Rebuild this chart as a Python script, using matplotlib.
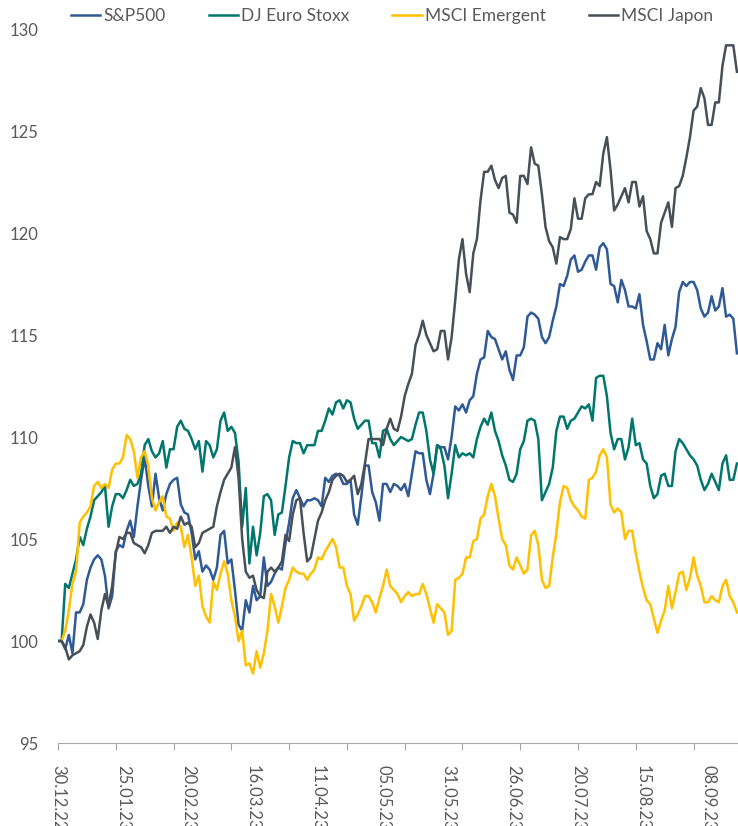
import numpy as np
import pandas as pd
import matplotlib
matplotlib.use('Agg')
import matplotlib.pyplot as plt
from matplotlib.ticker import MultipleLocator, NullFormatter, FuncFormatter

plt.rcParams['font.family'] = ['Lato', 'DejaVu Sans']

# business days from 30.12.22, values rebased to 100
dates = pd.bdate_range('2022-12-30', periods=189)

sp500 = [100.0, 100.0, 99.6, 100.3, 99.4, 101.4, 101.4, 101.8, 103.0, 103.6,
         104.0, 104.2, 104.0, 103.2, 101.6, 102.2, 104.4, 104.7, 104.6, 105.4,
         105.9, 105.1, 106.6, 107.9, 109.0, 107.6, 106.6, 108.2, 107.0, 106.4,
         107.2, 107.7, 107.9, 108.0, 106.7, 106.3, 106.2, 105.3, 104.0, 104.4,
         103.4, 103.7, 103.5, 103.0, 103.6, 105.2, 105.4, 103.8, 104.0, 102.5,
         100.8, 100.5, 102.0, 101.4, 102.7, 102.0, 102.2, 104.1, 102.7, 102.9,
         103.3, 103.6, 103.5, 104.8, 105.8, 107.0, 107.4, 107.0, 106.6, 106.9,
         106.9, 107.0, 106.9, 106.6, 108.0, 107.8, 108.1, 108.2, 108.1, 107.7,
         107.7, 107.9, 106.2, 105.7, 107.1, 108.6, 108.6, 107.3, 106.8, 105.9,
         107.7, 107.7, 107.3, 107.7, 107.6, 107.4, 107.7, 107.1, 108.2, 109.3,
         109.2, 109.2, 107.9, 107.2, 108.2, 109.6, 109.5, 109.5, 108.9, 110.0,
         111.5, 111.3, 111.6, 111.2, 111.8, 112.0, 113.1, 113.8, 113.9, 115.2,
         114.9, 114.8, 114.3, 113.8, 114.2, 113.3, 112.8, 114.0, 114.0, 114.4,
         115.9, 116.1, 116.0, 115.8, 114.9, 114.6, 114.9, 115.7, 116.4, 117.5,
         117.4, 117.9, 118.7, 118.9, 118.1, 118.2, 118.6, 118.9, 118.9, 118.2,
         119.3, 119.5, 119.2, 117.5, 117.4, 116.6, 117.7, 117.2, 116.4, 116.4,
         116.3, 117.0, 115.5, 114.7, 113.8, 113.8, 114.6, 114.3, 115.5, 114.0,
         114.8, 115.4, 117.1, 117.6, 117.4, 117.6, 117.6, 117.2, 116.3, 115.9,
         116.1, 116.9, 116.2, 116.4, 117.3, 115.9, 116.0, 115.8, 114.1]

euro_stoxx = [100.0, 100.0, 102.8, 102.6, 103.3, 104.0, 105.1, 104.7, 105.5, 106.1,
              106.9, 107.1, 107.3, 107.6, 105.6, 106.6, 107.2, 107.2, 107.0, 107.4,
              107.9, 107.6, 107.7, 108.2, 109.6, 109.9, 109.3, 109.0, 109.2, 109.8,
              108.5, 109.4, 109.4, 110.5, 110.8, 110.4, 110.3, 109.9, 109.4, 109.8,
              108.3, 109.8, 109.6, 109.0, 109.4, 110.8, 111.2, 110.3, 110.5, 110.2,
              108.8, 105.6, 107.5, 103.8, 105.6, 104.2, 105.3, 107.1, 107.2, 106.9,
              105.2, 106.2, 106.3, 107.6, 109.0, 109.8, 109.7, 109.7, 109.2, 109.6,
              109.6, 109.6, 110.3, 110.3, 110.8, 111.4, 111.1, 111.7, 111.8, 111.4,
              111.8, 111.7, 110.9, 110.4, 110.6, 110.8, 110.8, 109.7, 109.7, 109.0,
              110.3, 110.4, 109.9, 109.6, 109.8, 110.0, 109.9, 109.8, 109.9, 110.6,
              111.2, 111.2, 110.3, 108.9, 108.2, 109.6, 109.4, 108.6, 107.0, 108.2,
              109.6, 109.0, 109.2, 109.1, 109.2, 109.0, 109.9, 110.5, 110.9, 110.6,
              111.2, 110.3, 109.8, 109.1, 108.6, 107.9, 107.8, 108.2, 109.4, 109.8,
              110.8, 110.9, 110.8, 109.9, 106.9, 107.3, 107.7, 108.5, 110.3, 111.0,
              111.0, 110.4, 110.8, 110.9, 111.2, 111.5, 111.4, 111.6, 110.8, 112.9,
              113.0, 113.0, 112.0, 110.2, 109.4, 109.9, 109.9, 108.9, 109.5, 110.9,
              109.6, 109.7, 108.9, 108.7, 107.6, 107.0, 107.2, 108.1, 108.2, 107.6,
              107.6, 109.3, 109.9, 109.7, 109.4, 109.1, 108.9, 108.6, 107.9, 107.4,
              107.7, 108.2, 107.8, 107.4, 108.7, 109.1, 107.9, 107.9, 108.7]

emergent = [100.0, 100.0, 100.5, 101.5, 102.8, 103.4, 105.8, 106.1, 106.3, 106.6,
            107.6, 107.8, 107.5, 107.7, 107.5, 108.4, 108.7, 108.7, 109.0, 110.1,
            109.9, 109.3, 108.0, 109.0, 109.3, 108.6, 107.0, 106.4, 106.8, 107.1,
            106.1, 106.0, 105.4, 105.8, 105.6, 104.6, 105.2, 104.1, 102.7, 103.2,
            101.7, 101.2, 100.9, 102.9, 102.5, 103.3, 103.9, 103.3, 102.0, 101.2,
            100.0, 100.5, 98.8, 98.9, 98.4, 99.5, 98.7, 99.4, 100.5, 102.3,
            101.7, 100.9, 101.7, 102.6, 103.0, 103.6, 103.4, 103.3, 103.3, 103.0,
            103.3, 103.5, 104.1, 104.0, 104.4, 104.7, 105.0, 104.6, 103.6, 103.6,
            102.7, 102.3, 101.0, 101.3, 101.7, 102.2, 102.2, 101.9, 101.4, 102.1,
            102.7, 103.5, 102.7, 102.5, 102.3, 101.9, 102.2, 102.4, 102.2, 102.3,
            102.3, 102.8, 102.3, 101.6, 100.9, 101.8, 101.6, 101.4, 100.3, 100.5,
            103.0, 103.1, 103.3, 104.1, 104.1, 104.9, 105.0, 106.0, 106.2, 107.1,
            107.7, 107.1, 106.0, 105.0, 104.7, 103.7, 103.5, 104.1, 103.7, 103.3,
            103.5, 105.2, 105.4, 104.7, 103.0, 102.6, 102.7, 104.1, 105.3, 106.8,
            107.6, 107.5, 106.9, 106.6, 106.4, 106.1, 106.0, 107.9, 108.0, 108.3,
            109.1, 109.4, 109.0, 106.7, 106.3, 106.5, 106.3, 105.0, 105.4, 105.4,
            104.3, 103.4, 102.6, 102.0, 101.8, 101.1, 100.4, 101.0, 101.5, 102.7,
            101.6, 102.4, 103.3, 103.4, 102.5, 103.1, 104.1, 103.2, 102.7, 101.9,
            101.9, 102.2, 102.0, 101.9, 102.7, 103.0, 102.2, 101.9, 101.4]

japon = [100.0, 100.0, 99.7, 99.1, 99.3, 99.4, 99.5, 99.8, 100.7, 101.3,
         100.9, 100.1, 101.5, 102.3, 101.7, 102.7, 104.3, 105.1, 105.0, 105.3,
         105.3, 104.8, 104.7, 104.6, 104.3, 104.7, 105.3, 105.4, 105.4, 105.4,
         105.6, 105.3, 105.6, 105.5, 106.1, 105.7, 105.8, 105.6, 104.6, 104.8,
         105.3, 105.4, 105.5, 105.6, 106.6, 107.3, 107.9, 108.2, 108.5, 109.5,
         108.0, 105.0, 103.4, 103.1, 103.2, 102.5, 102.2, 102.1, 103.4, 103.6,
         103.4, 103.6, 103.9, 105.2, 104.9, 106.2, 106.9, 107.0, 105.3, 103.9,
         104.1, 105.0, 105.9, 106.3, 106.9, 107.3, 107.9, 108.1, 108.2, 108.1,
         107.8, 107.9, 108.1, 107.2, 107.7, 108.7, 109.9, 109.9, 109.9, 109.9,
         109.6, 110.4, 110.9, 110.4, 110.3, 111.0, 112.0, 112.6, 113.1, 114.5,
         115.0, 115.7, 115.0, 114.6, 114.2, 114.3, 115.2, 115.2, 113.8, 114.9,
         116.7, 118.7, 119.7, 118.0, 117.1, 119.0, 119.7, 121.6, 123.0, 123.0,
         123.3, 122.6, 122.2, 122.7, 122.8, 121.0, 120.9, 120.5, 122.8, 122.8,
         122.4, 124.2, 123.4, 123.3, 121.9, 120.3, 119.6, 119.3, 118.5, 119.8,
         119.7, 119.7, 120.2, 121.7, 120.7, 120.7, 121.7, 121.9, 121.9, 122.5,
         122.3, 123.9, 124.7, 123.1, 121.1, 121.4, 121.8, 122.2, 121.5, 122.5,
         122.5, 121.3, 121.8, 120.1, 119.7, 119.0, 119.0, 120.5, 121.0, 121.5,
         120.3, 122.2, 122.3, 122.8, 123.7, 124.7, 126.0, 126.2, 127.1, 126.6,
         125.3, 125.3, 126.4, 126.4, 128.2, 129.2, 129.2, 129.2, 127.9]

series = [('S&P500', sp500, '#2F5A97'),
          ('DJ Euro Stoxx', euro_stoxx, '#00766C'),
          ('MSCI Emergent', emergent, '#FFC000'),
          ('MSCI Japon', japon, '#484F57')]

text_color = '#595959'
font_size = 12

fig = plt.figure(figsize=(7.38, 8.26), dpi=100)
ax = fig.add_axes([58 / 738, 1 - 743 / 826, 1 - 58 / 738, (743 - 29) / 826])

x = np.arange(len(dates))
handles = []
for name, values, color in series:
    line, = ax.plot(x, values, color=color, lw=1.8, label=name, solid_joinstyle='round')
    handles.append(line)

ax.set_ylim(95, 130)
ax.set_xlim(0, 188.3)
ax.yaxis.set_major_locator(MultipleLocator(5))
ax.tick_params(axis='y', length=0, pad=14, labelsize=font_size, labelcolor=text_color)

# tick marks every 16 days, labels every 18 days (Excel style)
ax.xaxis.remove_overlapping_locs = False
ax.xaxis.set_major_locator(MultipleLocator(16))
ax.xaxis.set_major_formatter(NullFormatter())
ax.xaxis.set_minor_locator(MultipleLocator(18))
ax.xaxis.set_minor_formatter(FuncFormatter(
    lambda v, pos: dates[int(round(v))].strftime('%d.%m.%y') if 0 <= round(v) < len(dates) else ''))
ax.tick_params(axis='x', which='major', length=5, width=0.8, color='#A6A6A6', direction='out')
ax.tick_params(axis='x', which='minor', length=0, pad=16, labelsize=font_size,
               labelcolor=text_color, labelrotation=-90)

for side in ['top', 'right', 'left']:
    ax.spines[side].set_visible(False)
ax.spines['bottom'].set_color('#A6A6A6')
ax.spines['bottom'].set_linewidth(0.8)

leg = fig.legend(handles=handles, loc='center', bbox_to_anchor=(392 / 738, 1 - 16 / 826),
                 ncol=4, frameon=False, fontsize=12.5, handlelength=1.7,
                 handletextpad=0.15, columnspacing=2.5, borderaxespad=0)
for t in leg.get_texts():
    t.set_color(text_color)

fig.savefig('out.png', dpi=100)
